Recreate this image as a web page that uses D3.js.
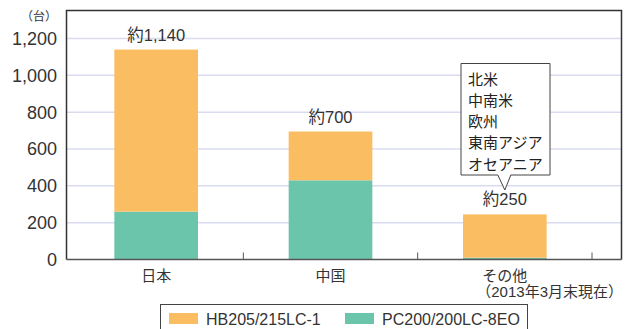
<!DOCTYPE html>
<html>
<head>
<meta charset="utf-8">
<script src="https://cdn.jsdelivr.net/npm/d3@7"></script>
<style>
  body { margin: 0; background: #fff; }
  svg { display: block; font-family: "Liberation Sans", "Noto Sans CJK JP", sans-serif; }
</style>
</head>
<body>
<div id="chart"></div>
<script>
// data
const categories = ["日本", "中国", "その他"];
const seriesNames = ["HB205/215LC-1", "PC200/200LC-8EO"];
const pcValues = [260, 430, 10];     // green (bottom)
const hbValues = [880, 265, 235];    // orange (top)
const totalLabels = ["約1,140", "約700", "約250"];
const yTicks = [0, 200, 400, 600, 800, 1000, 1200];
const calloutLines = ["北米", "中南米", "欧州", "東南アジア", "オセアニア"];

const colors = { "HB205/215LC-1": "#fbbd62", "PC200/200LC-8EO": "#6bc5aa" };

const W = 631, H = 329;
const pLeft = 66.5, pRight = 621.5, pTop = 10.5, pBottom = 259.5;

const svg = d3.select("#chart").append("svg")
    .attr("width", W).attr("height", H);

const x = d3.scaleBand()
    .domain(categories)
    .range([69, 592])
    .paddingInner(0.52)
    .paddingOuter(0.26);

const y = d3.scaleLinear()
    .domain([0, 1200])
    .range([pBottom, 38.5]);

// grid lines
svg.append("g")
    .selectAll("line")
    .data(yTicks.filter(d => d > 0))
    .join("line")
    .attr("x1", pLeft).attr("x2", pRight)
    .attr("y1", d => y(d)).attr("y2", d => y(d))
    .attr("stroke", "#d9dcf1")
    .attr("stroke-width", 1.5);

// stacked bars
const rows = categories.map((c, i) => ({ cat: c, "PC200/200LC-8EO": pcValues[i], "HB205/215LC-1": hbValues[i] }));
const stacked = d3.stack().keys(["PC200/200LC-8EO", "HB205/215LC-1"])(rows);

svg.append("g")
    .selectAll("g")
    .data(stacked)
    .join("g")
    .attr("fill", d => colors[d.key])
    .selectAll("rect")
    .data(d => d)
    .join("rect")
    .attr("x", d => x(d.data.cat))
    .attr("y", d => y(d[1]))
    .attr("width", x.bandwidth())
    .attr("height", d => y(d[0]) - y(d[1]));

// frame: top, right, left
svg.append("path")
    .attr("d", `M${pLeft},${pBottom}V${pTop}H${pRight}V${pBottom}`)
    .attr("fill", "none")
    .attr("stroke", "#333")
    .attr("stroke-width", 1.5);

// x axis
const xAxis = svg.append("g")
    .attr("transform", `translate(0,${pBottom})`);
xAxis.append("line")
    .attr("x1", pLeft).attr("x2", pRight)
    .attr("stroke", "#555").attr("stroke-width", 1.5);
xAxis.selectAll(".tk")
    .data(categories)
    .join("line")
    .attr("class", "tk")
    .attr("x1", d => x(d) + x.bandwidth() / 2 + x.step() / 2)
    .attr("x2", d => x(d) + x.bandwidth() / 2 + x.step() / 2)
    .attr("y1", 0).attr("y2", -7)
    .attr("stroke", "#555").attr("stroke-width", 1);

xAxis.selectAll(".cat")
    .data(categories)
    .join("text")
    .attr("class", "cat")
    .attr("x", d => x(d) + x.bandwidth() / 2)
    .attr("y", 21)
    .attr("text-anchor", "middle")
    .attr("font-size", 15)
    .attr("fill", "#333")
    .text(d => d);

svg.append("text")
    .attr("x", 623)
    .attr("y", pBottom + 37)
    .attr("text-anchor", "end")
    .attr("font-size", 15)
    .attr("fill", "#333")
    .text("（2013年3月末現在）");

// y axis labels
svg.append("g")
    .selectAll("text")
    .data(yTicks)
    .join("text")
    .attr("x", 57)
    .attr("y", d => y(d))
    .attr("dy", "0.36em")
    .attr("text-anchor", "end")
    .attr("font-size", 18)
    .attr("fill", "#333")
    .text(d => d3.format(",")(d));

svg.append("text")
    .attr("x", 57).attr("y", 21)
    .attr("text-anchor", "end")
    .attr("font-size", 12)
    .attr("fill", "#333")
    .text("（台）");

// total labels
svg.append("g")
    .selectAll("text")
    .data(categories)
    .join("text")
    .attr("x", d => x(d) + x.bandwidth() / 2)
    .attr("y", (d, i) => y(pcValues[i] + hbValues[i]) - 9)
    .attr("text-anchor", "middle")
    .attr("font-size", 16.5)
    .attr("fill", "#333")
    .text((d, i) => totalLabels[i]);

// callout
const cx = x("その他") + x.bandwidth() / 2;
const bx0 = 461, bx1 = 550, by0 = 63.5, by1 = 175;
svg.append("path")
    .attr("d", `M${bx0},${by0}H${bx1}V${by1}H${cx + 6}L${cx},190L${cx - 7},${by1}H${bx0}Z`)
    .attr("fill", "#fff")
    .attr("stroke", "#444")
    .attr("stroke-width", 1);
svg.append("g")
    .selectAll("text")
    .data(calloutLines)
    .join("text")
    .attr("x", 468)
    .attr("y", (d, i) => 84.5 + i * 21.3)
    .attr("font-size", 15)
    .attr("fill", "#222")
    .text(d => d);

// legend
const lg = svg.append("g");
lg.append("rect")
    .attr("x", 160.5).attr("y", 304.5)
    .attr("width", 367).attr("height", 30)
    .attr("fill", "none").attr("stroke", "#444").attr("stroke-width", 1);
const lx = [169, 345];
const items = lg.selectAll(".item")
    .data(seriesNames)
    .join("g")
    .attr("transform", (d, i) => `translate(${lx[i]},313)`);
items.append("rect")
    .attr("width", 29).attr("height", 11)
    .attr("fill", d => colors[d]);
items.append("text")
    .attr("x", 37).attr("y", 6)
    .attr("dy", "0.36em")
    .attr("font-size", 16)
    .attr("fill", "#333")
    .text(d => d);
</script>
</body>
</html>
